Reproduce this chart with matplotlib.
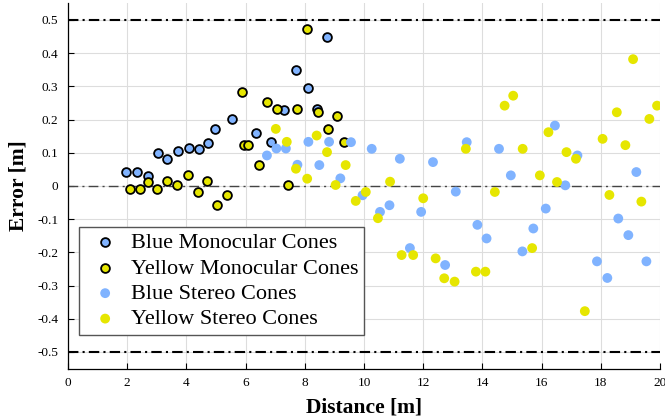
import matplotlib
matplotlib.use("Agg")
import matplotlib.pyplot as plt
from matplotlib.ticker import FuncFormatter

# ---- data ----
blue_mono_x = [1.95, 2.32, 2.71, 3.03, 3.33, 3.71, 4.09, 4.43, 4.74, 4.98, 5.54,
               6.34, 6.86, 7.30, 7.70, 8.12, 8.40, 8.75]
blue_mono_y = [0.042, 0.042, 0.031, 0.098, 0.082, 0.106, 0.114, 0.111, 0.130, 0.171, 0.202,
               0.159, 0.133, 0.229, 0.350, 0.294, 0.232, 0.450]

yellow_mono_x = [2.08, 2.42, 2.70, 3.01, 3.33, 3.69, 4.07, 4.39, 4.69, 5.03, 5.36,
                 5.89, 5.95, 6.07, 6.44, 6.73, 7.06, 7.42, 7.75, 8.09, 8.46, 8.77, 9.08, 9.33]
yellow_mono_y = [-0.008, -0.008, 0.013, -0.008, 0.014, 0.002, 0.033, -0.017, 0.014, -0.057, -0.028,
                 0.282, 0.122, 0.122, 0.063, 0.252, 0.233, 0.003, 0.233, 0.472, 0.222, 0.173, 0.212, 0.132]

blue_stereo_x = [6.72, 7.04, 7.36, 7.75, 8.12, 8.49, 8.82, 9.20, 9.56, 9.95, 10.26, 10.54,
                 10.86, 11.21, 11.55, 11.93, 12.33, 12.74, 13.10, 13.47, 13.83, 14.14, 14.56,
                 14.96, 15.35, 15.72, 16.14, 16.45, 16.80, 17.21, 17.87, 18.22, 18.59, 18.93,
                 19.20, 19.54]
blue_stereo_y = [0.092, 0.113, 0.113, 0.064, 0.133, 0.063, 0.133, 0.023, 0.132, -0.028, 0.112, -0.078,
                 -0.058, 0.082, -0.187, -0.078, 0.072, -0.238, -0.017, 0.132, -0.117, -0.158, 0.112,
                 0.032, -0.197, -0.128, -0.068, 0.182, 0.002, 0.092, -0.227, -0.277, -0.098, -0.148,
                 0.042, -0.227]

yellow_stereo_x = [7.02, 7.39, 7.70, 8.08, 8.40, 8.75, 9.04, 9.38, 9.72, 10.06, 10.47, 10.88,
                   11.27, 11.66, 12.00, 12.42, 12.71, 13.06, 13.44, 13.78, 14.10, 14.42, 14.75,
                   15.04, 15.36, 15.68, 15.94, 16.23, 16.52, 16.84, 17.16, 17.46, 18.06, 18.29,
                   18.54, 18.83, 19.09, 19.37, 19.64, 19.90]
yellow_stereo_y = [0.172, 0.133, 0.052, 0.022, 0.152, 0.102, 0.003, 0.063, -0.045, -0.018, -0.097, 0.013,
                   -0.208, -0.208, -0.037, -0.218, -0.278, -0.288, 0.112, -0.258, -0.258, -0.018, 0.242,
                   0.272, 0.112, -0.187, 0.032, 0.162, 0.012, 0.102, 0.082, -0.377, 0.142, -0.027,
                   0.222, 0.123, 0.382, -0.047, 0.202, 0.242]

labels = ["Blue Monocular Cones", "Yellow Monocular Cones",
          "Blue Stereo Cones", "Yellow Stereo Cones"]
x_ticks = [0, 2, 4, 6, 8, 10, 12, 14, 16, 18, 20]
y_ticks = [-0.5, -0.4, -0.3, -0.2, -0.1, 0, 0.1, 0.2, 0.3, 0.4, 0.5]

BLUE = "#80b3ff"
YELLOW = "#e6e600"

plt.rcParams['font.family'] = ['Liberation Serif', 'DejaVu Serif']

fig = plt.figure(figsize=(6.65, 4.19), dpi=100)
ax = fig.add_axes([0.1023, 0.1203, 0.8902, 0.8716])

ax.set_xlim(0, 20)
ax.set_ylim(-0.55, 0.55)

ax.grid(True, color="#dddddd", linewidth=0.8, zorder=0)
ax.set_axisbelow(True)

for yv in (0.5, -0.5):
    ax.axhline(yv, color="black", linewidth=1.5, linestyle=(0, (5, 2, 1, 2)), zorder=1)
ax.axhline(0, color="#444444", linewidth=1.0, linestyle=(0, (7, 3, 1.5, 3)), zorder=1)

ax.scatter(blue_mono_x, blue_mono_y, s=40, c=BLUE, edgecolors="black", linewidths=1.3,
           label=labels[0], zorder=3)
ax.scatter(yellow_mono_x, yellow_mono_y, s=40, c=YELLOW, edgecolors="black", linewidths=1.3,
           label=labels[1], zorder=3)
ax.scatter(blue_stereo_x, blue_stereo_y, s=50, c=BLUE, edgecolors="none",
           label=labels[2], zorder=4)
ax.scatter(yellow_stereo_x, yellow_stereo_y, s=50, c=YELLOW, edgecolors="none",
           label=labels[3], zorder=4)

ax.set_xticks(x_ticks)
ax.set_yticks(y_ticks)
ax.yaxis.set_major_formatter(FuncFormatter(lambda v, p: "0" if abs(v) < 1e-9 else ("%g" % v)))
ax.tick_params(direction="in", length=4, width=0.8, labelsize=9.5, colors="black")
ax.tick_params(axis="x", pad=6)
ax.tick_params(axis="y", pad=7)

for side in ("top", "right"):
    ax.spines[side].set_visible(False)
for side in ("left", "bottom"):
    ax.spines[side].set_linewidth(0.9)

ax.set_xlabel("Distance [m]", fontsize=15.5, fontweight="bold", labelpad=6)
ax.set_ylabel("Error [m]", fontsize=15.5, fontweight="bold", labelpad=6)

leg = ax.legend(loc="lower left", bbox_to_anchor=(0.0186, 0.092), borderaxespad=0,
                fontsize=16, frameon=True, fancybox=False, framealpha=1,
                edgecolor="#555555", handlelength=1.85, handletextpad=0.25,
                borderpad=0.25, labelspacing=0.22, scatterpoints=1)
leg.get_frame().set_linewidth(1.0)

fig.savefig("out.png", dpi=100)
